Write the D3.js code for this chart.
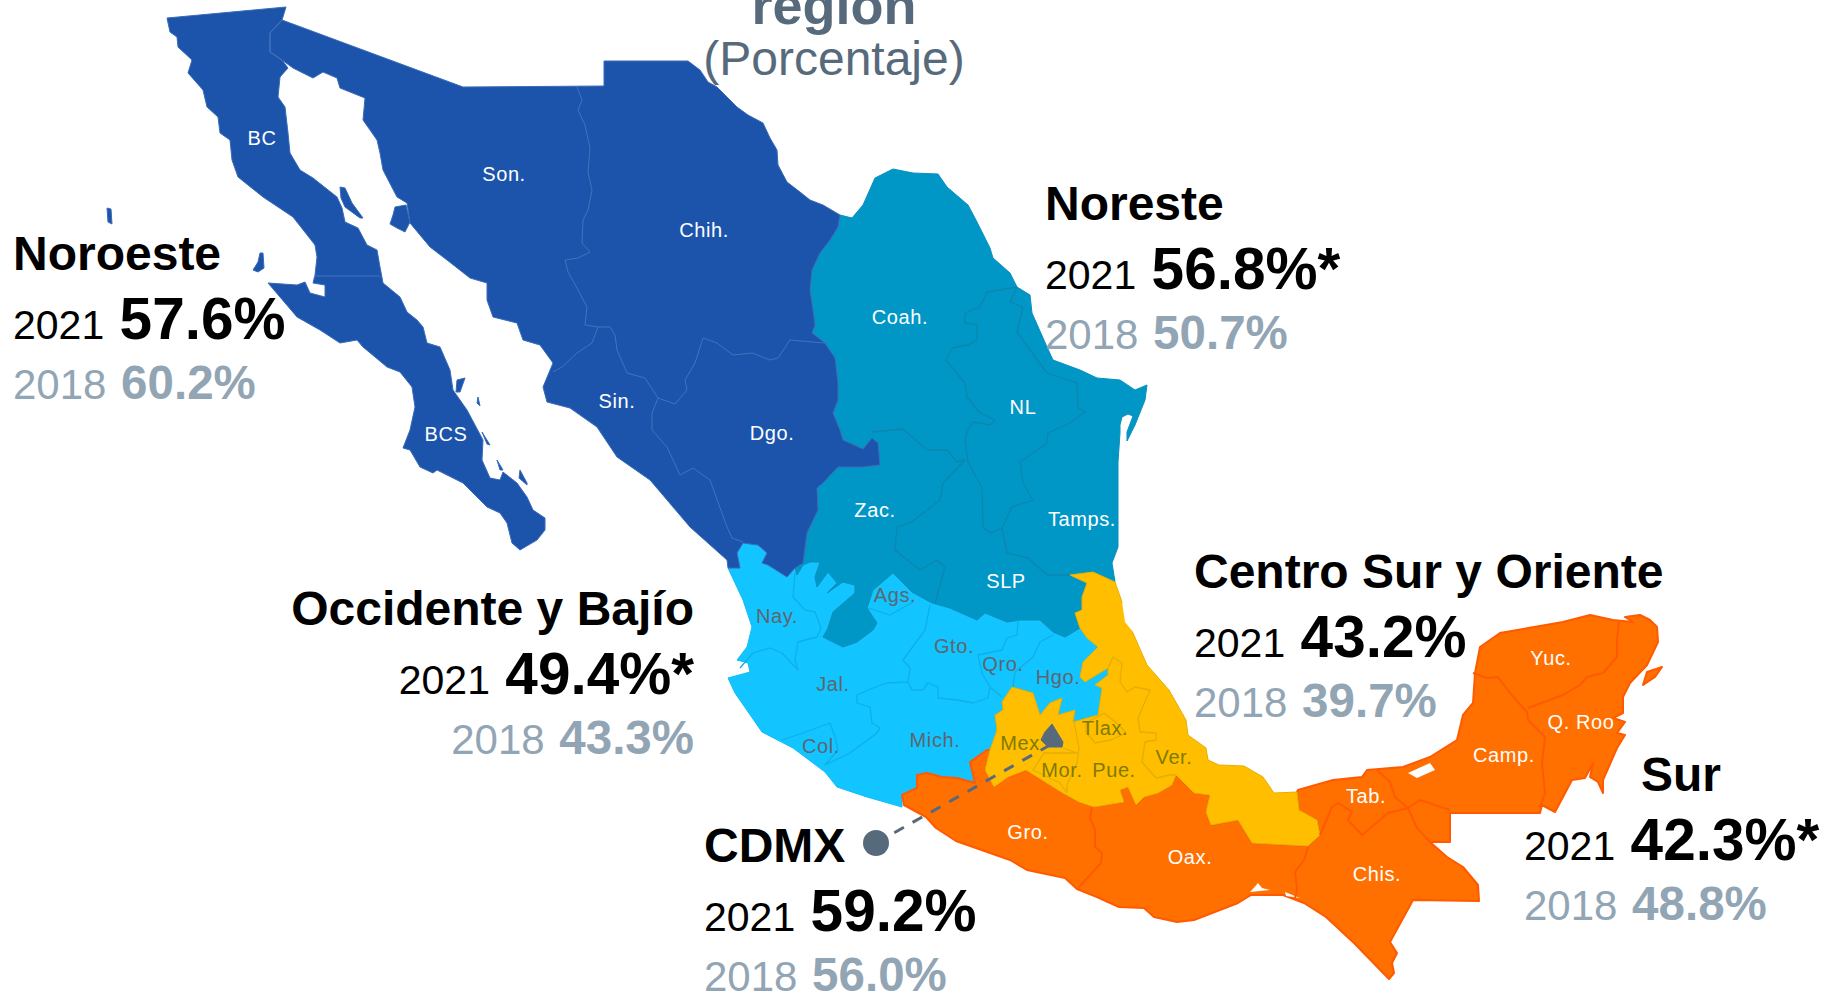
<!DOCTYPE html>
<html>
<head>
<meta charset="utf-8">
<script src="https://d3js.org/d3.v7.min.js"></script>
<style>
  html, body { margin: 0; background: #fff; overflow: hidden; }
  text { font-family: "Liberation Sans", Arial, sans-serif; }
</style>
</head>
<body>
<div id="chart"></div>
<script>
// ---- callout data
const regions = ['Noroeste', 'Noreste', 'Occidente y Bajío', 'Centro Sur y Oriente', 'CDMX', 'Sur'];
const values2021 = ['57.6%', '56.8%*', '49.4%*', '43.2%', '59.2%', '42.3%*'];
const values2018 = ['60.2%', '50.7%', '43.3%', '39.7%', '56.0%', '48.8%'];
const regionColors = ['#1c54ac', '#0097c6', '#12c4ff', '#ffbf00', '#566a7c', '#ff7000'];

// ---- state labels
const whiteStates = [['BC',262,138],['Son.',504,174],['Chih.',704,230],['Coah.',900,317],['NL',1023,407],['Sin.',617,401],['Dgo.',772,433],['BCS',446,434],['Zac.',875,510],['Tamps.',1082,519],['SLP',1006,581],['Gro.',1028,832],['Oax.',1190,857],['Chis.',1377,874],['Tab.',1366,796],['Camp.',1504,755],['Q. Roo',1581,722],['Yuc.',1551,658]];
const greyStates = [['Nay.',777,616],['Ags.',895,595],['Gto.',954,646],['Qro.',1003,664],['Hgo.',1058,677],['Jal.',833,684],['Col.',821,746],['Mich.',935,740]];
const oliveStates = [['Mex',1020,743],['Tlax.',1105,728],['Mor.',1062,770],['Pue.',1114,770],['Ver.',1174,757]];

// ---- map outlines (map units)
const peninsula = [[167,18],[286,7],[282,20],[270,33],[270,52],[282,60],[288,68],[280,77],[278,97],[285,107],[288,133],[290,153],[300,170],[313,178],[337,197],[342,208],[345,222],[358,228],[367,245],[377,250],[380,267],[383,283],[400,297],[407,312],[417,320],[423,327],[427,343],[440,347],[450,370],[453,390],[467,410],[483,440],[482,460],[490,478],[500,480],[503,472],[517,483],[527,497],[533,510],[545,518],[545,530],[537,540],[520,550],[512,543],[507,523],[500,513],[487,507],[463,483],[437,470],[433,473],[420,467],[410,450],[403,448],[410,430],[415,407],[412,387],[400,372],[387,367],[363,347],[357,340],[340,343],[320,330],[297,317],[268,283],[297,285],[305,282],[310,293],[325,297],[325,285],[313,283],[315,275],[317,257],[315,245],[293,217],[263,197],[238,177],[232,160],[230,140],[220,133],[218,117],[207,107],[203,90],[188,73],[192,60],[178,47],[177,37],[170,32]];
const mainlandNorth = [[282,20],[463,87],[604,86],[604,61],[688,61],[700,70],[708,82],[717,87],[737,107],[748,115],[763,123],[770,138],[777,150],[778,165],[787,182],[800,192],[810,200],[823,205]];
const edgeNoNe = [[840,215],[838,227],[830,240],[820,253],[812,270],[810,290],[813,310],[815,325],[812,333],[825,343],[835,358],[838,383],[838,400],[833,413],[840,430],[843,440],[863,449],[872,438],[878,443],[880,465],[863,467],[838,467],[823,483],[817,488],[818,510],[807,533],[803,563]];
const edgeNoOcc = [[803,563],[795,568],[787,577],[768,565],[762,563],[767,553],[758,545],[743,543],[737,553],[740,568],[728,568]];
const mainlandCoast = [[727,560],[690,527],[673,507],[650,480],[617,457],[597,427],[570,408],[547,402],[543,387],[553,363],[540,345],[523,340],[517,323],[493,317],[487,300],[487,283],[470,278],[447,260],[430,247],[410,223],[407,203],[397,197],[383,170],[380,153],[377,140],[363,120],[365,98],[340,88],[337,78],[323,72],[313,78],[293,68],[282,60],[270,52],[270,33]];
const noresteRim = [[840,215],[852,218],[863,205],[875,178],[893,169],[913,173],[938,174],[947,187],[968,205],[977,222],[990,248],[993,258],[1010,273],[1017,287],[1030,295],[1032,313],[1047,347],[1053,360],[1080,370],[1097,378],[1120,380],[1135,390],[1147,385],[1145,400],[1135,425],[1127,441],[1127,432],[1133,416],[1128,414],[1122,417],[1120,425],[1120,433],[1118,462],[1118,500],[1118,547],[1112,563],[1115,582]];
const edgeNeAmber = [[1115,582],[1093,572],[1070,575],[1087,583],[1082,597],[1082,610],[1075,613],[1080,628]];
const edgeNeOcc = [[1080,628],[1065,637],[1053,632],[1040,620],[1020,620],[1007,622],[985,613],[977,620],[950,608],[932,603],[912,592],[893,573],[873,590],[867,608],[877,623],[873,630],[857,642],[843,647],[823,637],[828,628],[833,612],[855,593],[855,585],[843,582],[827,593],[837,583],[828,572],[817,587],[815,577],[820,562],[810,562],[803,565],[797,575],[795,568]];
const occCoast = [[902,795],[902,807],[867,797],[837,787],[825,772],[793,748],[762,732],[735,693],[728,678],[750,672],[748,663],[737,660],[747,647],[752,627],[743,600],[728,568]];
const edgeAmberOcc = [[1080,628],[1087,638],[1098,647],[1083,662],[1080,677],[1085,682],[1108,668],[1108,675],[1095,685],[1102,688],[1098,715],[1073,722],[1075,710],[1058,715],[1062,698],[1050,703],[1040,715],[1033,693],[1012,687],[1002,702],[1003,710],[995,715],[997,730],[990,750]];
const edgeOccOrange = [[990,750],[987,750],[970,762],[975,783],[957,778],[942,777],[927,773],[917,775],[917,788],[902,795]];
const edgeAmberOrange = [[990,750],[985,770],[994,787],[1008,777],[1026,770],[1061,792],[1079,802],[1094,807],[1124,802],[1120,790],[1128,787],[1136,805],[1144,797],[1158,793],[1172,785],[1176,775],[1194,793],[1210,795],[1206,812],[1211,825],[1238,820],[1252,843],[1308,846],[1320,835],[1317,820],[1299,810],[1297,792]];
const amberCoast = [[1274,793],[1263,777],[1244,766],[1219,765],[1208,760],[1206,748],[1188,735],[1186,720],[1169,690],[1147,665],[1133,633],[1122,602],[1115,582]];
const orangeCoast = [[1298,790],[1333,780],[1362,777],[1367,770],[1403,767],[1430,757],[1457,740],[1463,715],[1473,703],[1475,673],[1480,647],[1500,633],[1563,622],[1590,615],[1613,620],[1633,622],[1625,617],[1640,615],[1650,620],[1657,627],[1658,642],[1647,665],[1630,683],[1623,697],[1623,713],[1613,718],[1625,722],[1617,733],[1625,735],[1617,748],[1603,780],[1603,793],[1598,782],[1590,777],[1593,763],[1585,778],[1572,780],[1555,812],[1542,805],[1540,813],[1450,813],[1450,842],[1430,842],[1447,857],[1463,867],[1478,885],[1479,901],[1413,900],[1390,942],[1397,953],[1392,963],[1394,973],[1389,979],[1354,943],[1326,917],[1304,903],[1283,895],[1251,895],[1238,903],[1194,920],[1177,922],[1154,917],[1144,908],[1119,907],[1097,897],[1077,889],[1065,878],[1027,870],[1010,860],[956,841],[936,828],[926,817],[904,805],[902,795]];
const cdmxShape = [[1052,724],[1063,742],[1062,747],[1048,747],[1041,740],[1045,732]];

// islands and lagoons
const noroesteIslands = [
  [[260,253],[263,253],[264,268],[258,272],[253,270],[258,262]],
  [[340,187],[345,188],[352,203],[363,218],[360,218],[345,207],[341,198]],
  [[395,207],[406,205],[410,222],[405,232],[397,228],[390,224],[393,215]],
  [[457,380],[465,378],[460,392],[456,392]],
  [[497,460],[503,470],[500,470]],
  [[520,470],[527,483],[527,485],[519,478]],
  [[482,432],[490,445],[487,444]],
  [[478,397],[480,406],[477,403]],
  [[107,208],[111,209],[112,224],[108,222]]
];
const orangeIslands = [[[1643,685],[1647,672],[1662,667],[1655,677]]];
const lagoons = [
  [[1122,602],[1135,620],[1133,632],[1125,622]],
  [[1408,773],[1430,763],[1435,770],[1417,778]],
  [[1252,890],[1258,883],[1262,888],[1270,890],[1250,892]],
  [[1285,892],[1300,898],[1286,896]]
];

// state borders
const noroesteBorders = [
  [[315,276],[380,276]],
  [[282,20],[270,33],[270,52],[282,60]],
  [[577,87],[582,100],[578,110],[585,125],[590,148],[588,172],[592,190],[588,210],[583,220],[582,243],[590,252],[578,258],[565,260],[568,272],[577,288],[587,307],[585,325],[598,327],[610,327],[615,335],[617,350],[627,373],[645,378],[658,398],[675,404],[687,390],[685,380],[695,363],[703,338],[717,343],[733,355],[752,353],[770,360],[778,358],[790,340],[813,342],[825,343]],
  [[598,327],[592,343],[577,353],[562,367],[553,372]],
  [[658,398],[652,413],[652,430],[667,447],[680,475],[693,468],[710,480],[727,527],[732,538],[743,542]]
];
const noresteBorders = [
  [[1017,287],[987,292],[980,307],[965,313],[965,323],[977,325],[977,340],[968,345],[952,348],[946,360],[965,383],[967,397],[980,413],[995,420],[990,425],[973,422],[968,430],[965,440],[968,462],[982,488],[983,527],[990,533],[1002,528],[1007,553],[1028,558],[1047,575],[1070,575]],
  [[1017,287],[1010,302],[1023,307],[1017,332],[1030,350],[1047,373],[1077,383],[1078,408],[1085,412],[1070,423],[1048,433],[1047,443],[1020,462],[1023,483],[1033,500],[1012,507],[1002,528]],
  [[872,432],[903,429],[927,450],[947,450],[957,462],[965,460],[943,483],[940,500],[910,523],[897,527],[895,550],[920,570],[937,560],[945,567],[935,603]]
];
const occBorders = [
  [[795,573],[793,597],[805,610],[815,612],[821,628],[817,637],[798,642],[795,660],[798,670],[782,653],[770,648],[753,653],[740,668]],
  [[782,740],[803,733],[830,723],[835,737],[838,750],[825,765],[850,753],[877,733],[880,728],[872,723],[870,707],[857,703],[857,695],[873,688],[887,683],[908,682],[910,668],[903,660],[925,630],[930,605]],
  [[908,682],[912,690],[923,690],[928,683],[938,687],[938,698],[958,700],[973,703],[988,698],[990,687],[982,673],[978,655],[1002,650],[1007,638],[1017,635],[1018,620]],
  [[1053,635],[1040,642],[1033,657],[1015,672],[1013,687]],
  [[990,687],[1002,697]],
  [[868,608],[890,615],[913,602]]
];
const amberBorders = [
  [[1108,668],[1113,657],[1122,663],[1120,682],[1127,692],[1135,687],[1150,690],[1138,718],[1140,732],[1156,733],[1156,740],[1145,742],[1142,762],[1156,778],[1170,775],[1176,775]],
  [[1074,722],[1079,748],[1077,763],[1067,785],[1067,793]],
  [[1086,723],[1104,713],[1119,725],[1126,733],[1111,740],[1095,743],[1086,732],[1086,723]],
  [[1063,748],[1077,753],[1044,753],[1033,770],[1060,783],[1067,793]]
];
const orangeBorders = [
  [[1092,807],[1090,818],[1095,830],[1095,847],[1102,853],[1101,863],[1079,887]],
  [[1308,847],[1304,860],[1295,872],[1297,890],[1295,898]],
  [[1320,835],[1332,807],[1338,803],[1352,812],[1348,820],[1362,835],[1388,813],[1408,808],[1417,828],[1430,842]],
  [[1377,770],[1390,782],[1395,797],[1408,808],[1420,800],[1450,810]],
  [[1473,673],[1487,678],[1498,677],[1510,693],[1527,712],[1528,720],[1545,737],[1542,763],[1545,793],[1540,807]],
  [[1528,708],[1563,695],[1580,685],[1587,677],[1603,673],[1617,657],[1617,640],[1619,622]]
];

// ---- helpers
const width = 1830, height = 995;
const ring = pts => [...pts, pts[0]];
const polygons = rings => ({ type: 'MultiPolygon', coordinates: rings.map(r => [ring(r)]) });
const lines = list => ({ type: 'MultiLineString', coordinates: list });
const rev = arr => [...arr].reverse();

const svg = d3.select('#chart').append('svg')
    .attr('width', width)
    .attr('height', height)
    .attr('xmlns', 'http://www.w3.org/2000/svg');

const path = d3.geoPath(d3.geoIdentity());

// Region shapes, built from the shared edges so neighbours meet
const noroesteShapes = [
    peninsula,
    [...mainlandNorth, ...edgeNoNe, ...edgeNoOcc, ...mainlandCoast],
    ...noroesteIslands
];
const noresteShapes = [[...noresteRim, ...edgeNeAmber, ...edgeNeOcc, ...rev(edgeNoNe)]];
const occShapes = [[...rev(edgeNeOcc), ...edgeAmberOcc, ...edgeOccOrange, ...occCoast, ...rev(edgeNoOcc)]];
const amberShapes = [[...edgeNeAmber, ...edgeAmberOcc, ...edgeAmberOrange, ...amberCoast]];
const orangeShapes = [[...rev(edgeOccOrange), ...edgeAmberOrange, ...orangeCoast], ...orangeIslands];

const layers = [
    { shapes: occShapes, borders: occBorders, fill: regionColors[2], edge: '#10bdf6', line: '#0fb0e6', stroke: 1.3, edgeWidth: 1 },
    { shapes: noresteShapes, borders: noresteBorders, fill: regionColors[1], edge: '#0a8fbd', line: '#0c86ae', stroke: 1.3, edgeWidth: 1 },
    { shapes: noroesteShapes, borders: noroesteBorders, fill: regionColors[0], edge: '#3a6bb8', line: '#4272bd', stroke: 1, edgeWidth: 1 },
    { shapes: orangeShapes, borders: orangeBorders, fill: regionColors[5], edge: '#ff5a00', line: '#ff5a00', stroke: 2, edgeWidth: 2 },
    { shapes: amberShapes, borders: amberBorders, fill: regionColors[3], edge: '#e5b000', line: '#e5ad05', stroke: 1.3, edgeWidth: 1 }
];

const map = svg.append('g');
layers.forEach(l => {
    map.append('path').attr('d', path(polygons(l.shapes)))
        .attr('fill', l.fill).attr('stroke', l.edge).attr('stroke-width', l.edgeWidth).attr('stroke-linejoin', 'round');
});
map.append('path').attr('d', path(polygons(lagoons))).attr('fill', '#fff');
layers.forEach(l => {
    map.append('path').attr('d', path(lines(l.borders)))
        .attr('fill', 'none').attr('stroke', l.line).attr('stroke-width', l.stroke).attr('stroke-linejoin', 'round');
});
map.append('path').attr('d', path(polygons([cdmxShape]))).attr('fill', regionColors[4]).attr('stroke', regionColors[4]);

// CDMX leader
const cdmxDot = [876, 843];
svg.append('line')
    .attr('x1', cdmxDot[0]).attr('y1', cdmxDot[1])
    .attr('x2', 1050).attr('y2', 745)
    .attr('stroke', regionColors[4]).attr('stroke-width', 3).attr('stroke-dasharray', '11 10');
svg.append('circle').attr('cx', cdmxDot[0]).attr('cy', cdmxDot[1]).attr('r', 13).attr('fill', regionColors[4]);

// State labels
function stateLabels(list, color) {
    svg.append('g').selectAll('text').data(list).join('text')
        .attr('x', d => d[1]).attr('y', d => d[2] + 7)
        .attr('text-anchor', 'middle')
        .attr('font-size', 20)
        .attr('letter-spacing', 0.6)
        .attr('fill', color)
        .text(d => d[0]);
}
stateLabels(whiteStates, '#ffffff');
stateLabels(greyStates, '#5e6670');
stateLabels(oliveStates, '#7f7a00');

// Title
svg.append('text').attr('x', 834).attr('y', 24).attr('text-anchor', 'middle')
    .attr('font-size', 54).attr('font-weight', 700).attr('fill', regionColors[4]).text('región');
svg.append('text').attr('x', 834).attr('y', 75).attr('text-anchor', 'middle')
    .attr('font-size', 48).attr('fill', regionColors[4]).text('(Porcentaje)');

// Callouts: name x, year x, anchor, baselines
const calloutX = [13, 1045, 694, 1194, 704, 1641];
const calloutYearX = [13, 1045, 694, 1194, 704, 1524];
const calloutAnchor = ['start', 'start', 'end', 'start', 'start', 'start'];
const calloutY = [270, 220, 625, 588, 862, 791];

regions.forEach((name, i) => {
    const g = svg.append('g').attr('text-anchor', calloutAnchor[i]);
    g.append('text').attr('x', calloutX[i]).attr('y', calloutY[i])
        .attr('font-size', 48).attr('font-weight', 700).attr('fill', '#000').text(name);

    const t21 = g.append('text').attr('x', calloutYearX[i]).attr('y', calloutY[i] + 69).attr('fill', '#000');
    t21.append('tspan').attr('font-size', 41).text('2021 ');
    t21.append('tspan').attr('dx', 4).attr('font-size', 58.5).attr('font-weight', 700).text(values2021[i]);

    const t18 = g.append('text').attr('x', calloutYearX[i]).attr('y', calloutY[i] + 129).attr('fill', '#92a5b4');
    t18.append('tspan').attr('font-size', 42).text('2018 ');
    t18.append('tspan').attr('dx', 3).attr('font-size', 47.5).attr('font-weight', 700).text(values2018[i]);
});
</script>
</body>
</html>
